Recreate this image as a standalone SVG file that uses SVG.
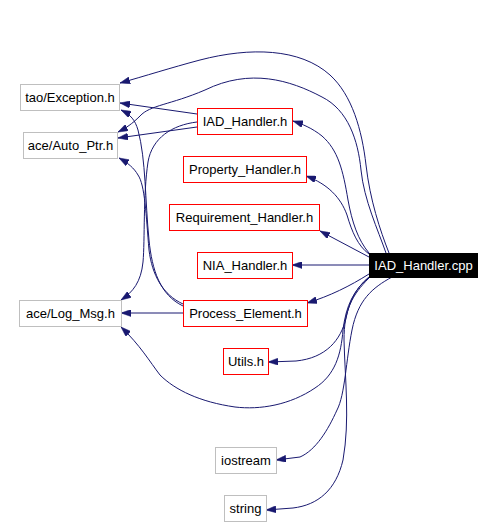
<svg xmlns="http://www.w3.org/2000/svg" width="496" height="526" viewBox="0 0 496 526">
<defs>
<marker id="ah" viewBox="0 0 10 7" refX="10" refY="3.5" markerWidth="10" markerHeight="7" markerUnits="userSpaceOnUse" orient="auto">
<path d="M0,0 L10,3.5 L0,7 z" fill="#191970" stroke="#191970" stroke-width="0.5"/>
</marker>
<style>
.e{fill:none;stroke:#191970;stroke-width:1;marker-end:url(#ah)}
.g{fill:#ffffff;stroke:#bfbfbf;stroke-width:1}
.r{fill:#ffffff;stroke:#ff0000;stroke-width:1}
.t{font-family:"Liberation Sans",Arial,sans-serif;font-size:13px;text-anchor:middle;fill:#000000}
</style>
</defs>
<rect width="496" height="526" fill="#ffffff"/>
<g id="connectors">
<path class="e" d="M197,114 L120,103"/>
<path class="e" d="M197,127 L118,138"/>
<path class="e" d="M197,122 C172,125 152,138 148,162 C143,195 145,240 143,262 C141,282 133,292 121,300"/>
<path class="e" d="M183,306 C160,295 152,270 149,240 C145,200 146,160 138,130 C135,120 131,115 121,110"/>
<path class="e" d="M183,304 C163,295 152,275 149,250 C146,215 145,185 138,175 C134,168 128,163 119,158"/>
<path class="e" d="M183,313 L121,313"/>
<path class="e" d="M389,253 C380,230 370,200 366,165 C362,130 352,95 330,75 C300,48 250,47 200,60 C170,68 145,76 120,83"/>
<path class="e" d="M386,253 C378,230 364,200 361,170 C358,140 348,110 322,97 C290,80 250,68 205,90 C170,105 150,105 140,116 C132,124 126,128 118,132"/>
<path class="e" d="M369,253 C358,240 352,222 348,200 C343,170 338,150 322,136 C312,128 302,124 293,121"/>
<path class="e" d="M369,254 C358,246 352,232 347,215 C341,198 328,184 306,176"/>
<path class="e" d="M369,257 L320,231"/>
<path class="e" d="M369,265 L292,265"/>
<path class="e" d="M369,274 C350,286 330,296 307,303"/>
<path class="e" d="M369,277 C356,288 350,300 346,318 C341,340 326,358 296,361 L268,362"/>
<path class="e" d="M369,277 C354,290 346,305 343,330 C341,355 335,375 315,388 C290,405 260,410 235,407 C200,402 175,390 160,375 C150,362 140,345 121,327"/>
<path class="e" d="M392,277 C372,288 358,300 352,330 C346,360 345,395 337,410 C328,430 316,450 300,457 L276,460"/>
<path class="e" d="M369,278 C352,295 344,310 344,340 C345,380 350,420 343,460 C336,490 318,505 293,508 L266,510"/>
</g>
<g id="n-exception"><rect class="g" x="20.5" y="84.5" width="99" height="26"/><text class="t" x="70" y="102">tao/Exception.h</text></g>
<g id="n-autoptr"><rect class="g" x="23.5" y="132.5" width="94" height="26"/><text class="t" x="70.5" y="150">ace/Auto_Ptr.h</text></g>
<g id="n-iadh"><rect class="r" x="197.5" y="108.5" width="95" height="26"/><text class="t" x="245" y="126">IAD_Handler.h</text></g>
<g id="n-prop"><rect class="r" x="183.5" y="156.5" width="123" height="26"/><text class="t" x="245" y="174">Property_Handler.h</text></g>
<g id="n-req"><rect class="r" x="169.5" y="204.5" width="150" height="26"/><text class="t" x="244.5" y="222">Requirement_Handler.h</text></g>
<g id="n-nia"><rect class="r" x="197.5" y="252.5" width="95" height="26"/><text class="t" x="245" y="270">NIA_Handler.h</text></g>
<g id="n-cpp"><rect x="369" y="253" width="109" height="25" fill="#000000"/><text class="t" x="423.5" y="270" fill="#ffffff" style="fill:#ffffff">IAD_Handler.cpp</text></g>
<g id="n-proc"><rect class="r" x="183.5" y="300.5" width="124" height="26"/><text class="t" x="245.5" y="318">Process_Element.h</text></g>
<g id="n-log"><rect class="g" x="19.5" y="300.5" width="102" height="26"/><text class="t" x="70.5" y="318">ace/Log_Msg.h</text></g>
<g id="n-utils"><rect class="r" x="223.5" y="348.5" width="45" height="26"/><text class="t" x="246" y="366">Utils.h</text></g>
<g id="n-iostream"><rect class="g" x="215.5" y="447.5" width="61" height="26"/><text class="t" x="246" y="465">iostream</text></g>
<g id="n-string"><rect class="g" x="224.5" y="495.5" width="42" height="26"/><text class="t" x="245.5" y="513">string</text></g>
</svg>
